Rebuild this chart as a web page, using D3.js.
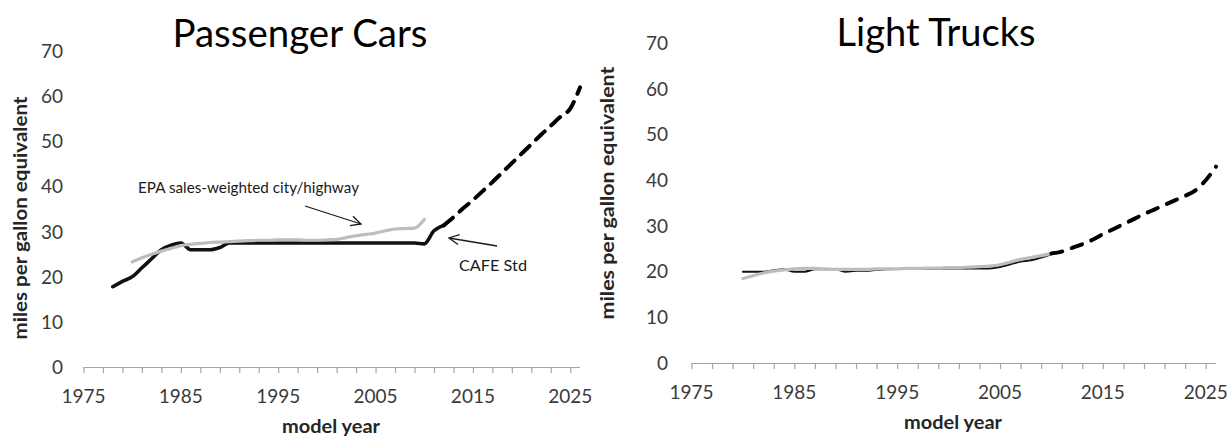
<!DOCTYPE html>
<html>
<head>
<meta charset="utf-8">
<script src="https://cdn.jsdelivr.net/npm/d3@7"></script>
<style>
  html, body { margin: 0; padding: 0; background: #fff; }
  svg { display: block; }
  text { font-family: Lato, "Open Sans", "Liberation Sans", sans-serif; }
</style>
</head>
<body>
<svg id="chart" width="1229" height="436"></svg>
<script>
// ---------- DATA ----------
const yTicks = [0, 10, 20, 30, 40, 50, 60, 70];
const xLabelYears = [1975, 1985, 1995, 2005, 2015, 2025];
const xTickYears = d3.range(1975, 2026, 2);

// Passenger cars
const carCafeYears = [1978,1979,1980,1981,1982,1983,1984,1985,1986,1987,1988,1989,1990,1991,1992,1993,1994,1995,1996,1997,1998,1999,2000,2001,2002,2003,2004,2005,2006,2007,2008,2009,2010,2011,2012];
const carCafeValues = [17.8,19.0,20.0,22.0,24.0,26.0,27.0,27.5,26.0,26.0,26.0,26.5,27.5,27.5,27.5,27.5,27.5,27.5,27.5,27.5,27.5,27.5,27.5,27.5,27.5,27.5,27.5,27.5,27.5,27.5,27.5,27.5,27.3,30.2,31.4];
const carEpaYears = [1980,1981,1982,1983,1984,1985,1986,1987,1988,1989,1990,1991,1992,1993,1994,1995,1996,1997,1998,1999,2000,2001,2002,2003,2004,2005,2006,2007,2008,2009,2010];
const carEpaValues = [23.3,24.2,25.0,25.7,26.3,26.9,27.2,27.4,27.6,27.7,27.8,27.9,28.0,28.1,28.1,28.2,28.2,28.2,28.1,28.1,28.2,28.3,28.7,29.1,29.4,29.7,30.2,30.6,30.7,30.8,32.7];
const carProjYears = [2012,2013,2014,2015,2016,2017,2018,2019,2020,2021,2022,2023,2024,2025,2026];
const carProjValues = [31.4,33.2,35.2,37.0,39.0,41.0,43.1,45.2,47.3,49.4,51.5,53.5,55.5,57.3,62.0];

// Light trucks
const truckCafeYears = [1980,1981,1982,1983,1984,1985,1986,1987,1988,1989,1990,1991,1992,1993,1994,1995,1996,1997,1998,1999,2000,2001,2002,2003,2004,2005,2006,2007,2008,2009,2010];
const truckCafeValues = [20.0,20.0,20.0,20.3,20.5,20.0,20.0,20.5,20.5,20.5,20.0,20.2,20.2,20.4,20.5,20.6,20.7,20.7,20.7,20.7,20.7,20.7,20.7,20.7,20.7,21.0,21.6,22.2,22.5,23.1,23.8];
const truckEpaYears = [1980,1981,1982,1983,1984,1985,1986,1987,1988,1989,1990,1991,1992,1993,1994,1995,1996,1997,1998,1999,2000,2001,2002,2003,2004,2005,2006,2007,2008,2009,2010];
const truckEpaValues = [18.5,19.1,19.7,20.1,20.4,20.6,20.7,20.7,20.6,20.5,20.5,20.5,20.5,20.6,20.6,20.6,20.7,20.7,20.8,20.8,20.9,20.9,21.0,21.1,21.2,21.5,22.1,22.7,23.1,23.5,24.0];
const truckProjYears = [2010,2011,2012,2013,2014,2015,2016,2017,2018,2019,2020,2021,2022,2023,2024,2025,2026];
const truckProjValues = [24.0,24.4,25.2,26.0,27.0,28.2,29.3,30.4,31.5,32.6,33.6,34.6,35.6,36.6,37.8,40.0,43.0];

// ---------- DRAW ----------
const svg = d3.select("#chart");
const zip = (xs, ys) => xs.map((x, i) => [x, ys[i]]);

const defs = svg.append("defs");
defs.append("marker")
  .attr("id", "arrow").attr("viewBox", "0 0 12 12")
  .attr("refX", 11).attr("refY", 6)
  .attr("markerWidth", 12).attr("markerHeight", 12)
  .attr("markerUnits", "userSpaceOnUse")
  .attr("orient", "auto")
  .append("path").attr("d", "M1,1 L11,6 L1,11")
  .attr("fill", "none").attr("stroke", "#1a1a1a").attr("stroke-width", 1.3);

function panel(cfg) {
  const g = svg.append("g");
  const x = d3.scaleLinear().domain([1975, 2026]).range([cfg.x0, cfg.x1]);
  const y = d3.scaleLinear().domain([0, 70]).range([cfg.y0, cfg.y1]);

  // title
  g.append("text").attr("x", cfg.titleX).attr("y", cfg.titleY)
    .attr("text-anchor", "middle").attr("font-size", 38).attr("fill", "#000")
    .attr("textLength", cfg.titleLen).attr("lengthAdjust", "spacingAndGlyphs")
    .text(cfg.title);

  // y tick labels
  g.selectAll(".yl").data(yTicks).join("text")
    .attr("x", cfg.yLabelRight).attr("y", d => y(d)).attr("dy", "0.36em")
    .attr("text-anchor", "end").attr("font-size", 19).attr("fill", "#3a3a3a")
    .text(d => d);

  // x axis
  const ax = g.append("g").attr("transform", `translate(0,${cfg.y0})`)
    .call(d3.axisBottom(x).tickValues(xTickYears).tickSize(6).tickSizeOuter(0).tickFormat(""));
  ax.select(".domain").attr("stroke", "#a6a6a6").attr("stroke-width", 1.2)
    .attr("d", `M${cfg.x0},0.5H${cfg.x1}`);
  ax.selectAll(".tick line").attr("stroke", "#a6a6a6").attr("stroke-width", 1.2);

  g.selectAll(".xl").data(xLabelYears).join("text")
    .attr("x", d => x(d)).attr("y", cfg.xLabelY).attr("dy", "0.36em")
    .attr("text-anchor", "middle").attr("font-size", 19).attr("fill", "#3a3a3a")
    .text(d => d);

  // axis titles
  g.append("text").attr("x", cfg.xTitleX).attr("y", cfg.xTitleY).attr("dy", "0.36em")
    .attr("text-anchor", "middle").attr("font-size", 18).attr("font-weight", "bold")
    .attr("fill", "#262626").attr("textLength", 98).attr("lengthAdjust", "spacingAndGlyphs")
    .text("model year");
  g.append("text")
    .attr("transform", `translate(${cfg.yTitleX},${cfg.yTitleY}) rotate(-90)`)
    .attr("dy", "0.36em").attr("text-anchor", "middle")
    .attr("font-size", 18).attr("font-weight", "bold").attr("fill", "#262626")
    .attr("textLength", cfg.yTitleLen).attr("lengthAdjust", "spacingAndGlyphs")
    .text("miles per gallon equivalent");

  const line = d3.line().x(d => x(d[0])).y(d => y(d[1])).curve(d3.curveMonotoneX);

  g.append("path").datum(zip(cfg.cafeYears, cfg.cafeValues))
    .attr("d", line).attr("fill", "none").attr("stroke", "#111")
    .attr("stroke-width", cfg.cafeWidth).attr("stroke-linejoin", "round").attr("stroke-linecap", "round");
  g.append("path").datum(zip(cfg.epaYears, cfg.epaValues))
    .attr("d", line).attr("fill", "none").attr("stroke", "#bdbdbd")
    .attr("stroke-width", 3.2).attr("stroke-linejoin", "round").attr("stroke-linecap", "round");
  g.append("path").datum(zip(cfg.projYears, cfg.projValues))
    .attr("d", line).attr("fill", "none").attr("stroke", "#000")
    .attr("stroke-width", 4).attr("stroke-dasharray", cfg.dash)
    .attr("stroke-linecap", "round");
  return {g, x, y};
}

const left = panel({
  title: "Passenger Cars", titleX: 300, titleY: 47, titleLen: 255,
  x0: 83.5, x1: 580, y0: 367, y1: 51.3,
  yLabelRight: 63, xLabelY: 396, xTitleX: 331, xTitleY: 427,
  yTitleX: 21, yTitleY: 218, yTitleLen: 243,
  cafeYears: carCafeYears, cafeValues: carCafeValues, cafeWidth: 3.6,
  epaYears: carEpaYears, epaValues: carEpaValues,
  projYears: carProjYears, projValues: carProjValues, dash: "12,9"
});

const right = panel({
  title: "Light Trucks", titleX: 936, titleY: 46, titleLen: 199,
  x0: 691.5, x1: 1216, y0: 363, y1: 43.3,
  yLabelRight: 668, xLabelY: 392, xTitleX: 953, xTitleY: 423,
  yTitleX: 608, yTitleY: 193, yTitleLen: 253,
  cafeYears: truckCafeYears, cafeValues: truckCafeValues, cafeWidth: 2,
  epaYears: truckEpaYears, epaValues: truckEpaValues,
  projYears: truckProjYears, projValues: truckProjValues, dash: "11,10"
});

// annotations (left panel)
const ann = left.g.append("g");
ann.append("text").attr("x", 138).attr("y", 187).attr("dy", "0.36em")
  .attr("font-size", 16).attr("fill", "#1a1a1a")
  .attr("textLength", 221).attr("lengthAdjust", "spacingAndGlyphs")
  .text("EPA sales-weighted city/highway");
ann.append("line").attr("x1", 305).attr("y1", 206).attr("x2", 361).attr("y2", 224)
  .attr("stroke", "#1a1a1a").attr("stroke-width", 1.3).attr("marker-end", "url(#arrow)");
ann.append("text").attr("x", 459).attr("y", 265).attr("dy", "0.36em")
  .attr("font-size", 16).attr("fill", "#1a1a1a")
  .attr("textLength", 68).attr("lengthAdjust", "spacingAndGlyphs")
  .text("CAFE Std");
ann.append("line").attr("x1", 497).attr("y1", 246).attr("x2", 449).attr("y2", 238)
  .attr("stroke", "#1a1a1a").attr("stroke-width", 1.3).attr("marker-end", "url(#arrow)");
</script>
</body>
</html>
